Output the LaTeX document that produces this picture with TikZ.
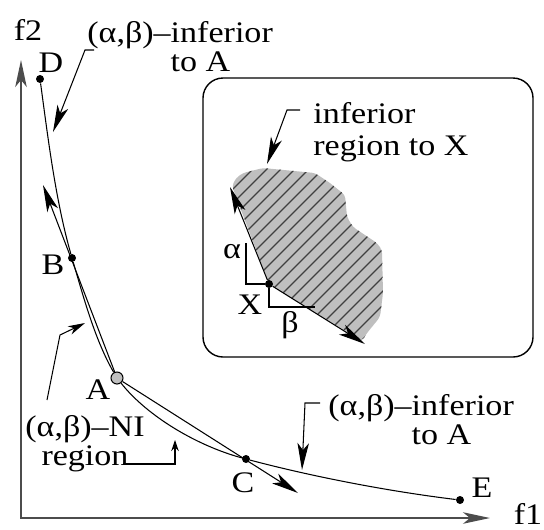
\documentclass[tikz,border=0pt]{standalone}
\usepackage{fontspec}
\setmainfont{Liberation Serif}[FakeStretch=1.14]
\usetikzlibrary{arrows.meta}

\begin{document}
\begin{tikzpicture}[x=0.02cm,y=-0.02cm,>={Stealth[length=5.4mm,width=2.3mm,inset=1.4mm]},
  lbl/.style={inner sep=0pt,font=\fontsize{17}{15}\selectfont},
  dot/.style={circle,fill=black,inner sep=0pt,minimum size=1.6mm},
  curve/.style={draw=black,line width=0.6pt},
  leader/.style={draw=black,line width=0.6pt},
  axis/.style={draw=black!70,line width=1pt}]
\useasboundingbox (0,0) rectangle (544,529);
% axes
\coordinate (f2tip) at (21,60);
\coordinate (f1tip) at (490,518);
\draw[axis,<->] (f2tip) |- (f1tip);
\node[lbl] (f2) at (28,30) {f2};
\node[lbl] (f1) at (528,514) {f1};
% points on the front
\node[dot] (D) at (40,79) {};
\node[dot] (B) at (72,258) {};
\node[dot,fill=black!25,draw=black,line width=0.6pt,minimum size=2.4mm] (A) at (117,378) {};
\node[dot] (C) at (246,459) {};
\node[dot] (E) at (460,500) {};
\node[lbl] (labD) at (51,63) {D};
\node[lbl] (labB) at (53,265) {B};
\node[lbl] (labA) at (98,390) {A};
\node[lbl] (labC) at (243,483) {C};
\node[lbl] (labE) at (482,488) {E};
\draw[curve] (D) .. controls +(8,59) and +(-16.5,-58) .. (B)
  .. controls +(12,41) and +(-21.5,-37) .. (A)
  .. controls +(31,39) and +(-48,-13) .. (C)
  .. controls +(68,18) and +(-70,-8.5) .. (E);
\coordinate (upTip) at (43,185);
\coordinate (downTip) at (298,493);
\draw[curve,->] (A) -- (upTip);
\draw[curve,->] (A) -- (downTip);
% labels with leaders
\node[lbl,align=left,anchor=north west] (infTop) at (87,21) {(α,β)–inferior\\\phantom{(α,β)–}to A};
\coordinate (t1) at (94,50);
\coordinate (t2) at (85,50);
\coordinate (t3) at (53,132);
\draw[leader,->] (t1) -- (t2) -- (t3);
\node[lbl,align=left,anchor=north west] (infBot) at (328,394) {(α,β)–inferior\\\phantom{(α,β)–}to A};
\coordinate (r1) at (320,403);
\coordinate (r2) at (305,403);
\coordinate (r3) at (302,470);
\draw[leader,->] (r1) -- (r2) -- (r3);
\node[lbl,align=center,anchor=north,font=\fontsize{17}{16.5}\selectfont] (ni) at (85,415) {(α,β)–NI\\region};
\coordinate (n1) at (47,400);
\coordinate (n2) at (60,335);
\coordinate (n3) at (85,323);
\draw[leader,-{Stealth[length=3.4mm,width=1.8mm,inset=1mm]}] (n1) -- (n2) -- (n3);
\coordinate (g1) at (123,464);
\coordinate (g2) at (175,464);
\coordinate (g3) at (175,440);
\draw[leader,-{Stealth[length=2.2mm,width=1.5mm,inset=0.7mm]}] (g1) -- (g2) -- (g3);
% inset
\draw[line width=0.8pt,rounded corners=0.4cm] (203,78) rectangle (533,357);
\begin{scope}
\clip[rounded corners=2pt] (269,284) -- (232,186) -- (236,178) -- (243,173) -- (263,168) -- (315,173) -- (330,183) -- (345,195) -- (347,217) -- (353,227) -- (377,243) -- (382,250) -- (383,293) -- (380,317) -- (367,333) -- (362,341) -- cycle;
\fill[black!25] (200,150) rectangle (400,360);
\foreach \x in {20,34,...,420} \draw[black!75,line width=0.7pt] (\x,360) -- ++(200,-200);
\end{scope}
\node[lbl,align=left,anchor=north west,font=\fontsize{17}{18}\selectfont] (infX) at (313,102) {inferior\\region to X};
\coordinate (x1) at (300,110);
\coordinate (x2) at (287,110);
\coordinate (x3) at (267,164);
\draw[leader,->] (x1) -- (x2) -- (x3);
\node[dot] (X) at (269,284) {};
\coordinate (alphaTip) at (230,187);
\coordinate (betaTip) at (365,344);
\draw[curve,->] (X) -- (alphaTip);
\draw[curve,->] (X) -- (betaTip);
\coordinate (aTop) at (246,243);
\coordinate (bEnd) at (315,307);
\draw[curve] (X) -| (aTop);
\draw[curve] (X) |- (bEnd);
\node[lbl] (labAlpha) at (232,252) {α};
\node[lbl] (labX) at (250,305) {X};
\node[lbl] (labBeta) at (290,325) {β};
\end{tikzpicture}
\end{document}
